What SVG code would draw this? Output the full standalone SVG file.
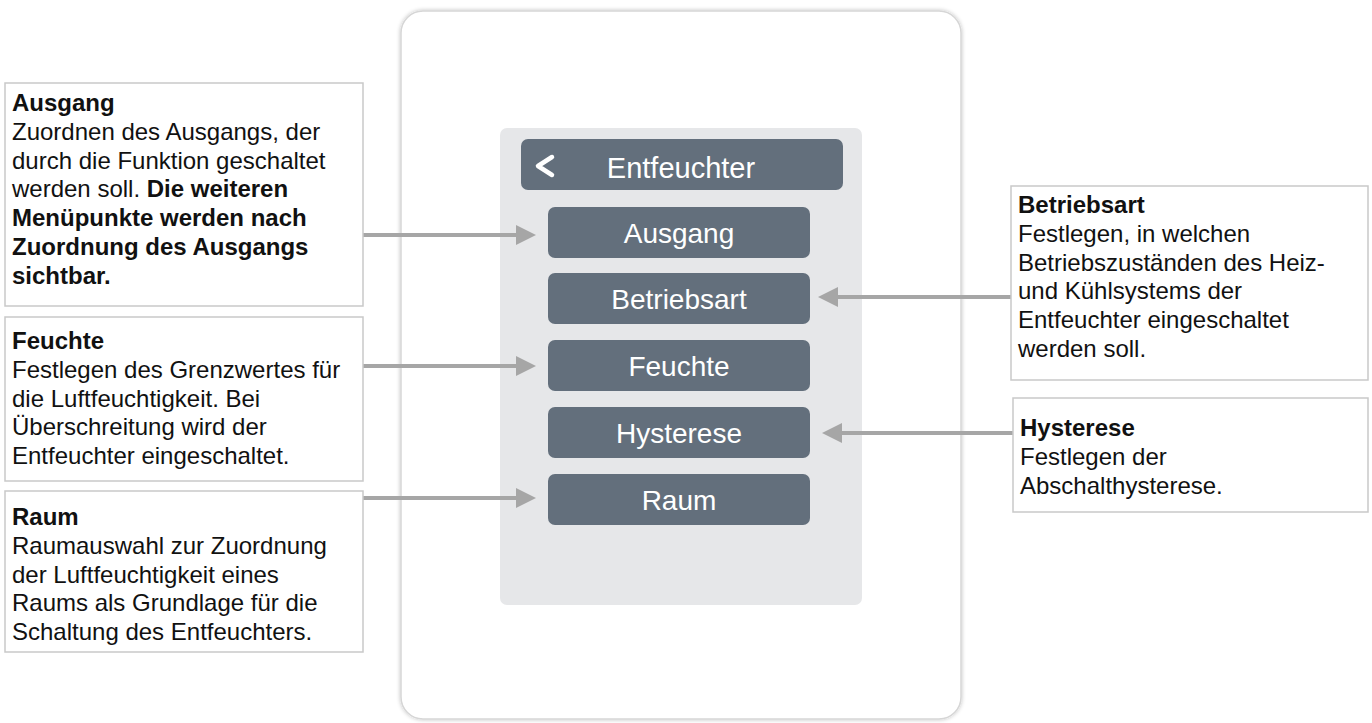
<svg xmlns="http://www.w3.org/2000/svg" width="1372" height="723" viewBox="0 0 1372 723">
<defs>
<style>
.box{fill:#ffffff;stroke:#c9c9c9;stroke-width:1.5}
.t{font-family:"Liberation Sans",Arial,sans-serif;font-size:24px;fill:#111111}
.b{font-weight:bold}
.btn{fill:#636f7c}
.bt{font-family:"Liberation Sans",Arial,sans-serif;font-size:28px;fill:#ffffff;text-anchor:middle}
.con{stroke:#a6a6a6;stroke-width:4;fill:none}
.head{fill:#a6a6a6}
</style>
<filter id="sh" x="-5%" y="-5%" width="110%" height="110%">
<feGaussianBlur in="SourceAlpha" stdDeviation="2"/>
<feOffset dx="0" dy="0"/>
<feComponentTransfer><feFuncA type="linear" slope="0.25"/></feComponentTransfer>
<feMerge><feMergeNode/><feMergeNode in="SourceGraphic"/></feMerge>
</filter>
</defs>
<rect width="1372" height="723" fill="#ffffff"/>
<g id="device">
<rect x="401" y="11" width="560" height="708" rx="22" fill="#ffffff" stroke="#d6d6d6" stroke-width="1.5" filter="url(#sh)"/>
<rect x="500" y="128" width="362" height="477" rx="7" fill="#e6e7e9"/>
</g>
<g id="header">
<rect x="521" y="139" width="322" height="51" rx="7" class="btn"/>
<polyline points="552,157 538,166 552,175" fill="none" stroke="#ffffff" stroke-width="4.5" stroke-linecap="round" stroke-linejoin="round"/>
<text x="681" y="178" class="bt" style="font-size:29px">Entfeuchter</text>
</g>
<g id="btn-ausgang"><rect x="548" y="207" width="262" height="51" rx="7" class="btn"/><text x="679" y="243" class="bt">Ausgang</text></g>
<g id="btn-betriebsart"><rect x="548" y="273" width="262" height="51" rx="7" class="btn"/><text x="679" y="309" class="bt">Betriebsart</text></g>
<g id="btn-feuchte"><rect x="548" y="340" width="262" height="51" rx="7" class="btn"/><text x="679" y="376" class="bt">Feuchte</text></g>
<g id="btn-hysterese"><rect x="548" y="407" width="262" height="51" rx="7" class="btn"/><text x="679" y="443" class="bt">Hysterese</text></g>
<g id="btn-raum"><rect x="548" y="474" width="262" height="51" rx="7" class="btn"/><text x="679" y="510" class="bt">Raum</text></g>
<g id="connectors">
<line x1="363" y1="235" x2="518" y2="235" class="con"/><polygon points="516,225 536,235 516,245" class="head"/>
<line x1="363" y1="366" x2="518" y2="366" class="con"/><polygon points="516,356 536,366 516,376" class="head"/>
<line x1="363" y1="498" x2="518" y2="498" class="con"/><polygon points="516,488 536,498 516,508" class="head"/>
<line x1="1011" y1="297" x2="836" y2="297" class="con"/><polygon points="838,287 818,297 838,307" class="head"/>
<line x1="1013" y1="433" x2="840" y2="433" class="con"/><polygon points="842,423 822,433 842,443" class="head"/>
</g>
<g id="note-ausgang">
<rect x="5" y="83" width="358" height="223" class="box"/>
<text class="t"><tspan x="12" y="111" class="b">Ausgang</tspan><tspan x="12" y="140">Zuordnen des Ausgangs, der</tspan><tspan x="12" y="169">durch die Funktion geschaltet</tspan><tspan x="12" y="197">werden soll. <tspan class="b">Die weiteren</tspan></tspan><tspan x="12" y="226" class="b">Menüpunkte werden nach</tspan><tspan x="12" y="255" class="b">Zuordnung des Ausgangs</tspan><tspan x="12" y="284" class="b">sichtbar.</tspan></text>
</g>
<g id="note-feuchte">
<rect x="5" y="317" width="358" height="164" class="box"/>
<text class="t"><tspan x="12" y="349" class="b">Feuchte</tspan><tspan x="12" y="378">Festlegen des Grenzwertes für</tspan><tspan x="12" y="407">die Luftfeuchtigkeit. Bei</tspan><tspan x="12" y="435">Überschreitung wird der</tspan><tspan x="12" y="464">Entfeuchter eingeschaltet.</tspan></text>
</g>
<g id="note-raum">
<rect x="5" y="491" width="358" height="161" class="box"/>
<text class="t"><tspan x="12" y="525" class="b">Raum</tspan><tspan x="12" y="554">Raumauswahl zur Zuordnung</tspan><tspan x="12" y="583">der Luftfeuchtigkeit eines</tspan><tspan x="12" y="611">Raums als Grundlage für die</tspan><tspan x="12" y="640">Schaltung des Entfeuchters.</tspan></text>
</g>
<g id="note-betriebsart">
<rect x="1011" y="186" width="357" height="194" class="box"/>
<text class="t"><tspan x="1018" y="213" class="b">Betriebsart</tspan><tspan x="1018" y="242">Festlegen, in welchen</tspan><tspan x="1018" y="271">Betriebszuständen des Heiz-</tspan><tspan x="1018" y="299">und Kühlsystems der</tspan><tspan x="1018" y="328">Entfeuchter eingeschaltet</tspan><tspan x="1018" y="357">werden soll.</tspan></text>
</g>
<g id="note-hysterese">
<rect x="1013" y="398" width="355" height="114" class="box"/>
<text class="t"><tspan x="1020" y="436" class="b">Hysterese</tspan><tspan x="1020" y="465">Festlegen der</tspan><tspan x="1020" y="494">Abschalthysterese.</tspan></text>
</g>
</svg>
